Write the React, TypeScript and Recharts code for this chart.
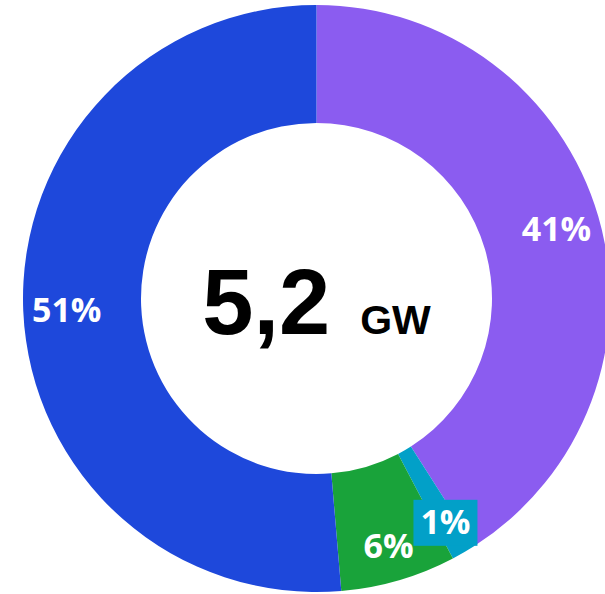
import { PieChart, Pie, Cell, Label } from 'recharts';

const NAMES = ['Solar', 'Otros', 'Eólica', 'Hidráulica'];
const VALUES = [2.13, 0.07, 0.33, 2.67];
const COLORS = ['#8b5cf0', '#02a0c8', '#19a33a', '#1e48db'];
const UNIT = 'GW';

const data = NAMES.map((name, i) => ({ name, value: VALUES[i] }));
const total = VALUES.reduce((a, b) => a + b, 0);
const RAD = Math.PI / 180;
const CX = 316.5;
const CY = 298.5;

const renderLabel = (props: any) => {
  const { cx, cy, midAngle, percent, index } = props;
  const small = percent < 0.1;
  const r = small ? 257 : 250;
  const x = cx + r * Math.cos(-midAngle * RAD);
  const y = cy + r * Math.sin(-midAngle * RAD);
  return (
    <g>
      {percent < 0.03 && (
        <rect x={x - 32} y={y - 21} width={64} height={46} fill={COLORS[index]} />
      )}
      <text
        x={x}
        y={y}
        fill="#fff"
        textAnchor="middle"
        dominantBaseline="central"
        fontFamily="'Open Sans', sans-serif"
        fontWeight={700}
        fontSize={34}
      >
        {`${Math.round(percent * 100)}%`}
      </text>
    </g>
  );
};

const renderCenter = () => (
  <text
    x={CX}
    y={CY + 35}
    textAnchor="middle"
    fontFamily="'Liberation Sans', Arial, sans-serif"
    fontWeight={700}
    fill="#000"
  >
    <tspan fontSize={92}>{total.toFixed(1).replace('.', ',')}</tspan>
    <tspan fontSize={41} dx={30}>{UNIT}</tspan>
  </text>
);

export default function App() {
  return (
    <div style={{ position: 'absolute', left: 0, top: 0, background: '#fff' }}>
      <PieChart width={605} height={594} margin={{ top: 0, right: 0, bottom: 0, left: 0 }}>
        <Pie
          data={data}
          dataKey="value"
          cx={CX}
          cy={CY}
          innerRadius={175.5}
          outerRadius={293.5}
          startAngle={90}
          endAngle={-270}
          stroke="none"
          label={renderLabel}
          labelLine={false}
          isAnimationActive={false}
        >
          {data.map((entry, index) => (
            <Cell key={`cell-${index}`} fill={COLORS[index]} />
          ))}
          <Label position="center" content={renderCenter} />
        </Pie>
      </PieChart>
    </div>
  );
}
